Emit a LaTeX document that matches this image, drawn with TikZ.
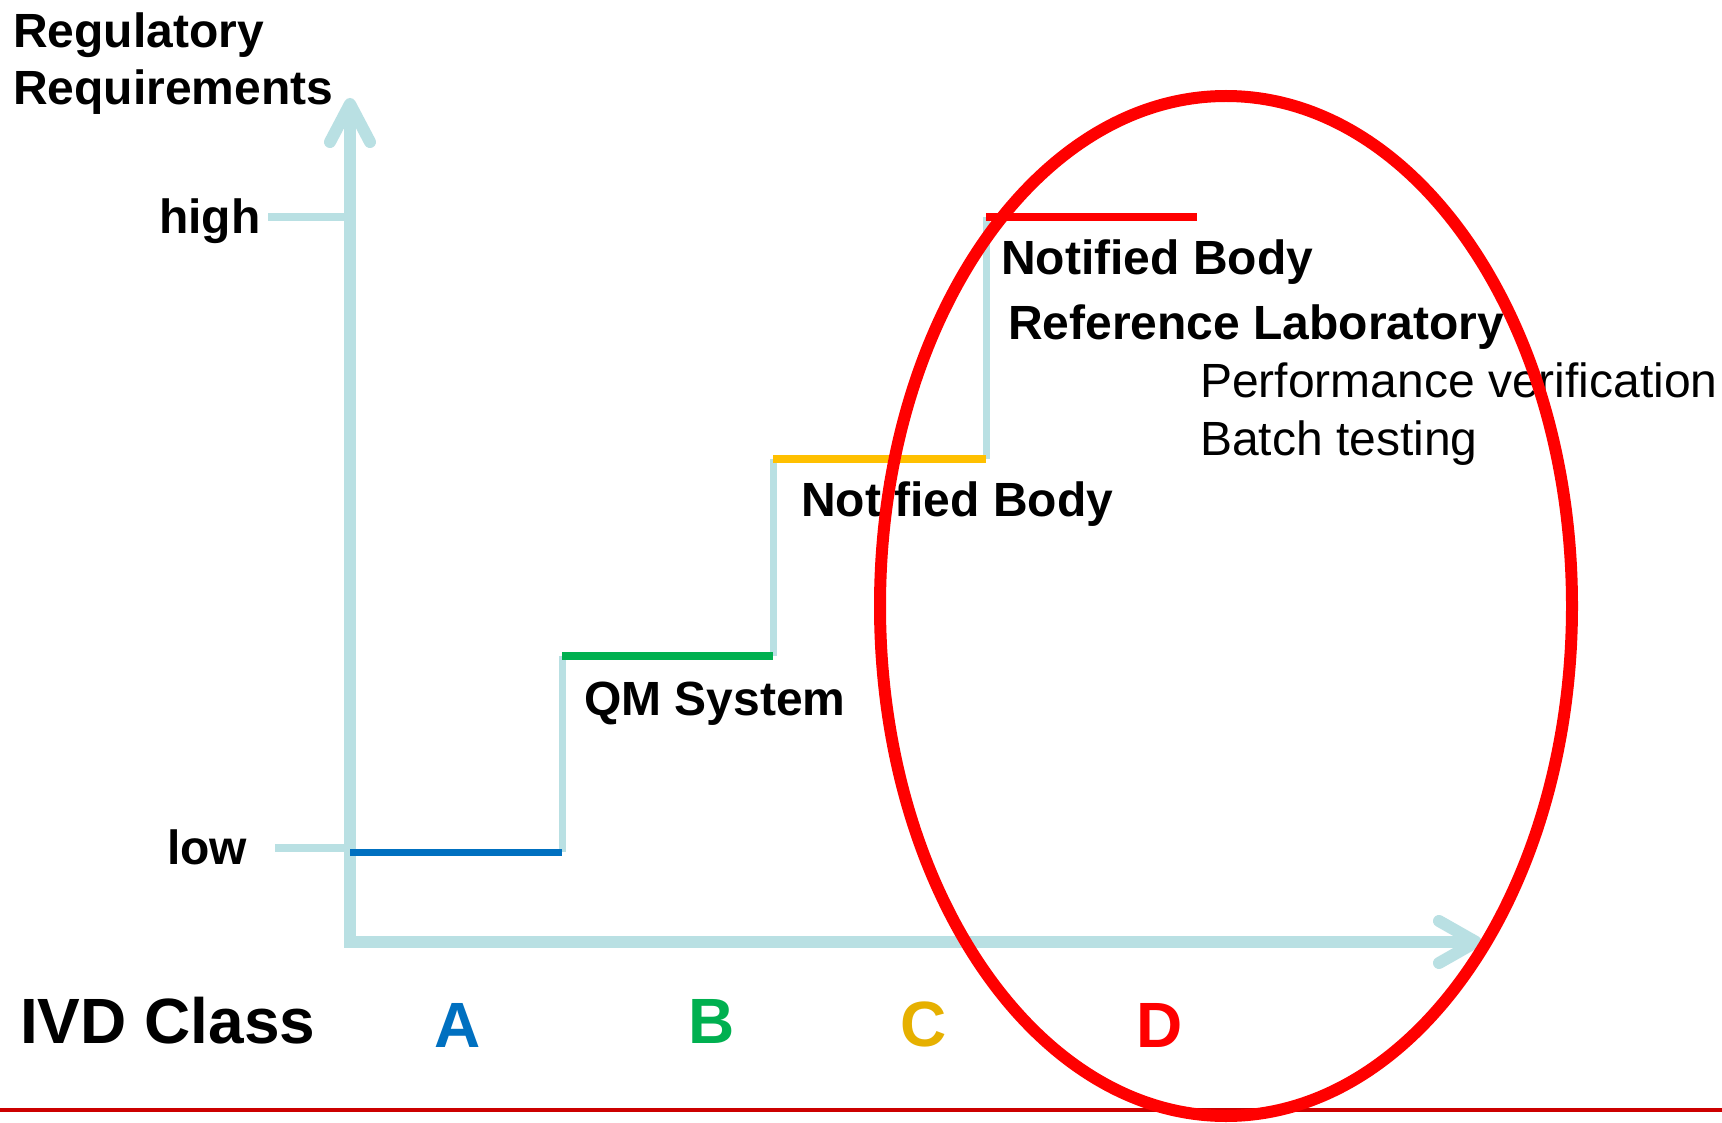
\documentclass[tikz,border=0pt]{standalone}
\usepackage{fontspec}
\setmainfont{Liberation Sans}
\definecolor{axcol}{RGB}{185,224,227}
\definecolor{blueA}{RGB}{0,112,192}
\definecolor{greenB}{RGB}{0,176,80}
\definecolor{yellowC}{RGB}{255,192,0}
\definecolor{goldC}{RGB}{230,176,0}
\definecolor{redD}{RGB}{255,0,0}
\definecolor{darkred}{RGB}{204,0,0}
\begin{document}
\begin{tikzpicture}[x=1pt,y=-1pt,
  lbl/.style={inner sep=0pt, anchor=base west, font=\fontsize{48}{52}\selectfont\bfseries},
  reg/.style={inner sep=0pt, anchor=base west, font=\fontsize{48}{52}\selectfont},
  cls/.style={inner sep=0pt, anchor=base west, font=\fontsize{64}{70}\selectfont\bfseries},
  axisline/.style={draw=axcol, line width=12pt},
  tickline/.style={draw=axcol, line width=7.5pt},
  riser/.style={draw=axcol, line width=7pt},
  level/.style={line width=8pt},
]
\useasboundingbox[fill=white] (0,0) rectangle (1722,1123);

% axes
\coordinate (ytip) at (350,104);
\coordinate (orig) at (350,942);
\coordinate (xtip) at (1476,942);
\coordinate (yw1) at (330,142);
\coordinate (yw2) at (370,142);
\coordinate (xw1) at (1439,921);
\coordinate (xw2) at (1439,963);
\draw[axisline, line join=miter] (ytip) -- (orig) -- (xtip);
\draw[axisline, line cap=round, line join=round] (yw1) -- (ytip) -- (yw2);
\draw[axisline, line cap=round, line join=round] (xw1) -- (xtip) -- (xw2);

% ticks
\coordinate (hi1) at (268,217);
\coordinate (hi2) at (344,217);
\coordinate (lo1) at (275,848);
\coordinate (lo2) at (344,848);
\draw[tickline] (hi1) -- (hi2);
\draw[tickline] (lo1) -- (lo2);

% steps
\coordinate (s1) at (350,852);
\coordinate (s2) at (562,852);
\coordinate (s3) at (562,656);
\coordinate (s4) at (773,656);
\coordinate (s5) at (773,459);
\coordinate (s6) at (986,459);
\coordinate (s7) at (986,217);
\coordinate (s8) at (1197,217);
\draw[riser] (s2) -- (s3);
\draw[riser] (s4) -- (s5);
\draw[riser] (s6) -- (s7);
\draw[level, draw=blueA, line width=7pt] (s1) -- (s2);
\draw[level, draw=greenB] (s3) -- (s4);
\draw[level, draw=yellowC] (s5) -- (s6);
\draw[level, draw=redD] (s7) -- (s8);

% texts
\node[lbl] (reg1) at (13,48) {Regulatory};
\node[lbl] (reg2) at (13,105) {Requirements};
\node[lbl] (high) at (159,234) {high};
\node[lbl] (low) at (167,864) {low};
\node[lbl] (qm) at (584,715) {QM System};
\node[lbl] (nbC) at (801,516) {Notified Body};
\node[lbl] (nbD) at (1001,275) {Notified Body};
\node[lbl] (reflab) at (1008,340) {Reference Laboratory};
\node[reg] (perf) at (1200,397) {Performance verification};
\node[reg] (batch) at (1200,455) {Batch testing};

\node[cls] (ivd) at (20,1043) {IVD Class};
\node[cls, text=blueA] (clA) at (434,1047) {A};
\node[cls, text=greenB] (clB) at (688,1043) {B};
\node[cls, text=goldC] (clC) at (900,1046) {C};
\node[cls, text=redD] (clD) at (1136,1047) {D};

% bottom rule
\coordinate (b1) at (0,1110);
\coordinate (b2) at (1722,1110);
\draw[draw=darkred, line width=3.5pt] (b1) -- (b2);

% ellipse
\coordinate (ec) at (1226,606);
\draw[draw=redD, line width=12pt] (ec) ellipse [x radius=346pt, y radius=510pt];
\end{tikzpicture}
\end{document}
